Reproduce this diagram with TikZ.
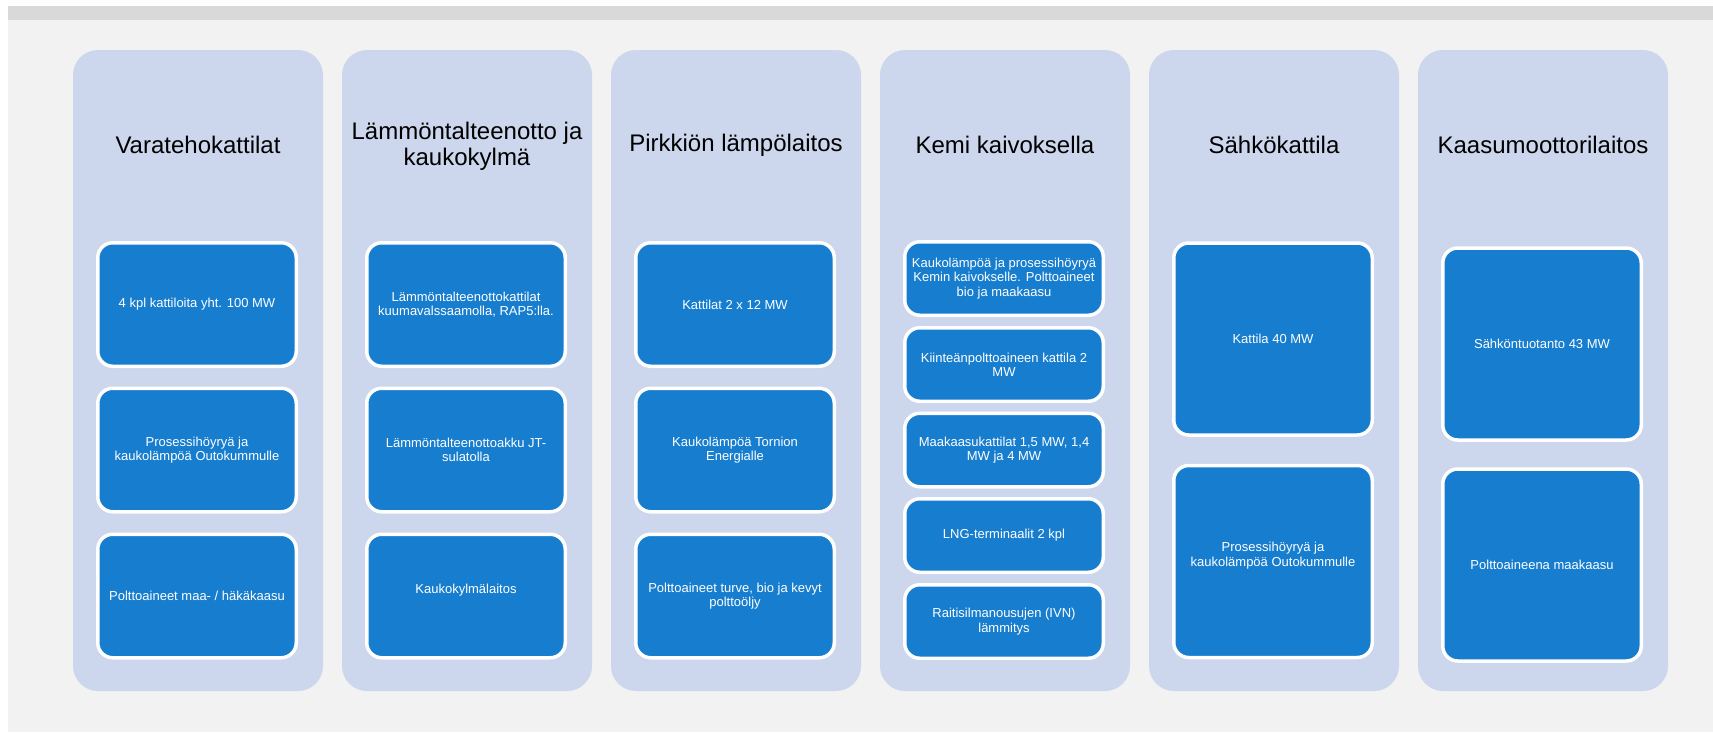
\documentclass[tikz,border=0pt]{standalone}
\usepackage{fontspec}
\setmainfont{Liberation Sans}
\usepackage{xcolor}

\definecolor{pagebg}{HTML}{F2F2F2}
\definecolor{barcol}{HTML}{D9D9D9}
\definecolor{lanecol}{HTML}{CCD6EC}
\definecolor{boxcol}{HTML}{177DCF}

\tikzset{
  lane/.style={fill=lanecol, rounded corners=25pt, minimum width=250pt, minimum height=641pt, inner sep=0pt},
  head/.style={font=\fontsize{24}{26}\selectfont, align=center, text=black},
  item/.style={fill=boxcol, draw=white, line width=3.5pt, rounded corners=15pt, text=white, align=center,
    font=\fontsize{13}{14.3}\selectfont, minimum width=198.5pt, inner sep=2pt},
  bigitem/.style={item, minimum height=123.5pt},
  smallitem/.style={item, minimum height=73.5pt},
  tallitem/.style={item, minimum height=192pt}
}

\begin{document}
\begin{tikzpicture}[x=1pt, y=-1pt]
                \useasboundingbox (0, 0) rectangle (1713, 732);
                \fill[white] (0, 0) rectangle (1713, 732);
                \fill[pagebg] (8, 6) rectangle (1713, 732);
                \fill[barcol] (8, 6) rectangle (1713, 20);

                \node[lane] (v) at (198, 370.5) {};
                \node[lane] (l) at (467, 370.5) {};
                \node[lane] (p) at (736, 370.5) {};
                \node[lane] (k) at (1005, 370.5) {};
                \node[lane] (s) at (1274, 370.5) {};
                \node[lane] (g) at (1543, 370.5) {};

                \node[head] (vt) at (198, 145) {Varatehokattilat};
                \node[head] (lt) at (467, 146) {Lämmöntalteenotto ja\\kaukokylmä};
                \node[head] (pt) at (736, 145) {Pirkkiön lämpölaitos};
                \node[head] (kt) at (1005, 145) {Kemi kaivoksella};
                \node[head] (st) at (1274, 145) {Sähkökattila};
                \node[head] (gt) at (1543, 145) {Kaasumoottorilaitos};

                \node[bigitem] (v1) at (197, 304.5) {4 kpl kattiloita yht. 100 MW};
                \node[bigitem] (v2) at (197, 450) {Prosessihöyryä ja\\kaukolämpöä Outokummulle};
                \node[bigitem] (v3) at (197, 596) {Polttoaineet maa- / häkäkaasu};

                \node[bigitem] (l1) at (466, 304.5) {Lämmöntalteenottokattilat\\kuumavalssaamolla, RAP5:lla.};
                \node[bigitem] (l2) at (466, 450) {Lämmöntalteenottoakku JT-\\sulatolla};
                \node[bigitem] (l3) at (466, 596) {Kaukokylmälaitos\\\mbox{}};

                \node[bigitem] (p1) at (735, 304.5) {Kattilat 2 x 12 MW};
                \node[bigitem] (p2) at (735, 450) {Kaukolämpöä Tornion\\Energialle};
                \node[bigitem] (p3) at (735, 596) {Polttoaineet turve, bio ja kevyt\\polttoöljy};

                \node[smallitem] (k1) at (1004, 278.5) {Kaukolämpöä ja prosessihöyryä\\Kemin kaivokselle. Polttoaineet\\bio ja maakaasu};
                \node[smallitem] (k2) at (1004, 364.5) {Kiinteänpolttoaineen kattila 2\\MW};
                \node[smallitem] (k3) at (1004, 450) {Maakaasukattilat 1,5 MW, 1,4\\MW ja 4 MW};
                \node[smallitem] (k4) at (1004, 535.5) {LNG-terminaalit 2 kpl};
                \node[smallitem] (k5) at (1004, 621.5) {Raitisilmanousujen (IVN)\\lämmitys};

                \node[tallitem] (s1) at (1273, 339) {Kattila 40 MW};
                \node[tallitem] (s2) at (1273, 561.5) {Prosessihöyryä ja\\kaukolämpöä Outokummulle\\\mbox{}};

                \node[tallitem] (g1) at (1542, 344) {Sähköntuotanto 43 MW};
                \node[tallitem] (g2) at (1542, 565) {Polttoaineena maakaasu};
            \end{tikzpicture}
\end{document}
